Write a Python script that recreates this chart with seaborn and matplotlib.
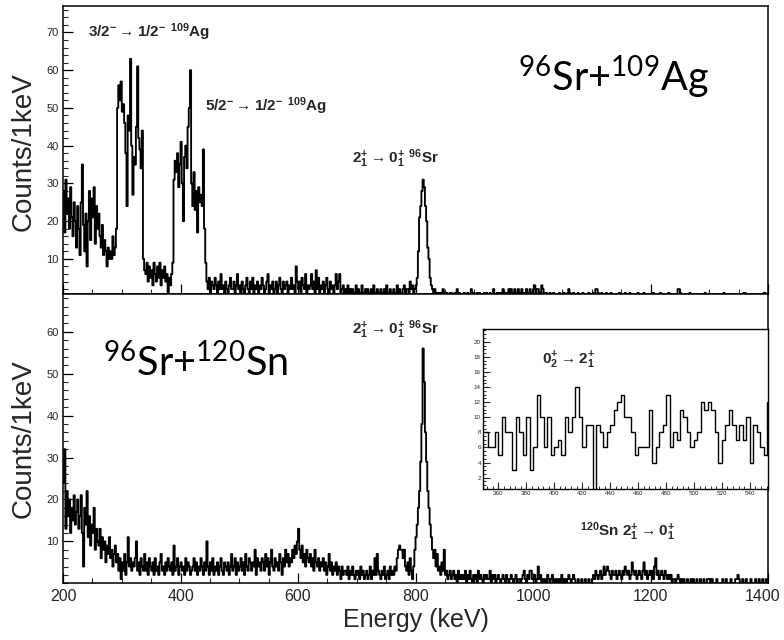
import numpy as np
import pandas as pd
import matplotlib
matplotlib.use("Agg")
import matplotlib.pyplot as plt
from matplotlib.ticker import MultipleLocator
from matplotlib.transforms import ScaledTranslation
import seaborn as sns

# ---- spectra: counts per 2 keV bin, starting at 200 keV ----
E_START = 200.0
E_BIN = 2.0

# 96Sr + 109Ag
ag_counts = [
    28, 17, 31, 22, 26, 18, 29, 21, 16, 25,
    20, 13, 24, 18, 11, 25, 35, 19, 12, 22,
    8, 20, 28, 15, 26, 21, 29, 14, 24, 18,
    22, 16, 13, 19, 11, 15, 12, 8, 13, 10,
    12, 10, 16, 11, 13, 18, 50, 56, 52, 57,
    49, 51, 46, 38, 24, 48, 44, 63, 40, 27,
    37, 35, 45, 61, 42, 39, 34, 44, 10, 7,
    6, 9, 4, 8, 5, 7, 3, 9, 6, 4,
    8, 5, 9, 3, 7, 5, 8, 4, 6, 0,
    5, 3, 6, 9, 31, 36, 33, 38, 29, 35,
    41, 30, 20, 37, 40, 34, 45, 50, 60, 30,
    24, 33, 23, 28, 17, 29, 25, 27, 24, 39,
    18, 9, 4, 2, 5, 1, 4, 3, 2, 5,
    3, 1, 4, 2, 6, 2, 3, 0, 4, 2,
    1, 3, 5, 2, 2, 4, 1, 3, 6, 2,
    3, 1, 4, 2, 0, 3, 5, 2, 1, 4,
    2, 5, 1, 3, 2, 4, 0, 3, 2, 5,
    3, 1, 2, 4, 6, 1, 3, 2, 4, 1,
    2, 4, 1, 3, 5, 2, 0, 4, 2, 3,
    4, 1, 3, 2, 5, 2, 3, 1, 8, 4,
    2, 4, 1, 5, 3, 2, 6, 1, 3, 2,
    3, 6, 2, 4, 1, 7, 2, 5, 1, 3,
    2, 4, 1, 3, 5, 2, 1, 4, 2, 3,
    1, 3, 6, 2, 4, 6, 1, 2, 3, 1,
    2, 1, 3, 0, 2, 1, 2, 0, 1, 3,
    1, 2, 0, 1, 3, 1, 0, 2, 1, 2,
    0, 1, 2, 1, 3, 0, 1, 2, 0, 1,
    2, 1, 0, 2, 1, 3, 1, 0, 2, 1,
    1, 2, 1, 0, 3, 1, 2, 1, 0, 2,
    3, 1, 2, 2, 1, 4, 2, 3, 1, 2,
    3, 5, 12, 21, 24, 28, 31, 29, 24, 20,
    13, 10, 5, 3, 2, 1, 2, 1, 0, 1,
    0, 1, 0, 2, 1, 0, 1, 0, 0, 1,
    1, 0, 0, 1, 0, 2, 0, 1, 0, 0,
    0, 1, 0, 0, 1, 0, 0, 2, 0, 1,
    0, 0, 1, 0, 1, 0, 0, 0, 1, 0,
    1, 0, 0, 1, 0, 0, 2, 0, 0, 1,
    0, 1, 1, 0, 2, 1, 0, 1, 1, 2,
    1, 2, 1, 1, 2, 1, 0, 2, 1, 1,
    2, 1, 1, 0, 2, 1, 1, 2, 0, 1,
    2, 3, 1, 2, 2, 0, 1, 3, 2, 1,
    0, 1, 0, 0, 1, 0, 0, 1, 0, 0,
    0, 0, 1, 0, 0, 0, 1, 0, 0, 1,
    2, 1, 0, 0, 1, 0, 0, 0, 1, 0,
    0, 0, 1, 0, 0, 0, 0, 1, 0, 0,
    0, 1, 0, 2, 2, 1, 0, 0, 1, 0,
    0, 0, 1, 0, 0, 0, 1, 0, 0, 0,
    0, 0, 0, 1, 0, 0, 0, 0, 1, 0,
    0, 0, 1, 0, 0, 0, 0, 0, 0, 1,
    0, 0, 0, 0, 1, 0, 0, 0, 0, 0,
    0, 0, 1, 0, 0, 0, 0, 0, 1, 0,
    0, 0, 0, 0, 0, 1, 0, 0, 0, 0,
    0, 0, 0, 2, 2, 1, 0, 0, 0, 0,
    0, 0, 0, 1, 0, 0, 0, 0, 0, 0,
    0, 0, 0, 0, 0, 0, 1, 0, 0, 0,
    0, 0, 0, 0, 0, 0, 0, 0, 0, 0,
    0, 0, 1, 0, 0, 0, 0, 0, 0, 0,
    0, 0, 0, 0, 0, 0, 0, 0, 0, 1,
    1, 0, 0, 0, 0, 0, 0, 0, 0, 0,
    0, 0, 0, 0, 0, 0, 1, 1, 0, 0,
]

# 96Sr + 120Sn
sn_counts = [
    24, 32, 13, 22, 16, 20, 12, 18, 15, 21,
    14, 17, 20, 13, 16, 21, 12, 4, 18, 14,
    22, 11, 16, 9, 14, 12, 18, 8, 13, 10,
    9, 13, 6, 11, 8, 10, 5, 9, 7, 11,
    6, 8, 4, 7, 9, 5, 7, 3, 6, 1,
    5, 3, 7, 2, 5, 11, 4, 6, 3, 5,
    4, 6, 10, 3, 5, 2, 6, 4, 3, 7,
    3, 5, 2, 6, 4, 3, 5, 2, 6, 3,
    4, 2, 5, 7, 3, 4, 2, 5, 3, 6,
    4, 3, 5, 2, 9, 3, 4, 6, 2, 4,
    5, 3, 4, 2, 6, 3, 5, 4, 2, 3,
    4, 6, 3, 5, 2, 4, 3, 6, 4, 2,
    5, 3, 10, 4, 2, 5, 3, 6, 2, 4,
    3, 5, 2, 4, 6, 3, 2, 5, 4, 3,
    5, 2, 4, 7, 3, 4, 6, 2, 5, 3,
    4, 6, 3, 5, 2, 7, 4, 3, 6, 5,
    3, 5, 4, 8, 2, 6, 4, 5, 3, 6,
    5, 3, 7, 4, 6, 2, 5, 8, 4, 3,
    6, 4, 5, 3, 7, 5, 2, 6, 4, 8,
    5, 7, 4, 6, 5, 8, 6, 9, 7, 10,
    13, 8, 6, 9, 5, 7, 4, 8, 6, 5,
    7, 4, 6, 3, 8, 5, 4, 6, 3, 5,
    4, 6, 3, 5, 2, 4, 7, 3, 5, 2,
    4, 3, 5, 2, 4, 3, 1, 4, 2, 3,
    3, 2, 4, 1, 3, 2, 4, 2, 1, 3,
    2, 3, 1, 4, 2, 3, 1, 2, 3, 1,
    2, 4, 1, 3, 2, 6, 2, 7, 3, 2,
    1, 3, 2, 4, 1, 2, 3, 1, 4, 2,
    3, 2, 4, 3, 6, 8, 9, 8, 8, 6,
    8, 4, 3, 5, 2, 6, 3, 1, 4, 8,
    11, 14, 18, 22, 29, 38, 56, 48, 36, 29,
    22, 18, 14, 11, 8, 6, 8, 4, 7, 3,
    4, 2, 5, 3, 8, 2, 3, 1, 2, 3,
    1, 2, 3, 1, 2, 0, 3, 1, 2, 1,
    2, 1, 3, 0, 2, 1, 3, 1, 0, 2,
    1, 2, 0, 3, 1, 2, 1, 0, 2, 1,
    2, 1, 1, 3, 0, 2, 1, 2, 0, 1,
    2, 1, 0, 1, 2, 1, 0, 2, 1, 0,
    1, 2, 1, 0, 1, 2, 0, 1, 1, 0,
    1, 2, 3, 1, 0, 2, 1, 3, 3, 1,
    1, 2, 0, 1, 4, 1, 2, 0, 1, 0,
    1, 0, 2, 1, 0, 1, 2, 0, 1, 0,
    1, 0, 1, 0, 2, 1, 0, 1, 0, 1,
    2, 1, 0, 1, 2, 1, 0, 0, 1, 0,
    0, 1, 0, 0, 1, 0, 0, 1, 0, 0,
    1, 2, 1, 3, 2, 1, 2, 3, 1, 2,
    4, 2, 3, 4, 3, 2, 1, 3, 2, 2,
    3, 1, 2, 3, 2, 1, 3, 2, 4, 3,
    2, 3, 1, 2, 5, 3, 2, 3, 1, 2,
    3, 2, 1, 3, 5, 2, 3, 1, 2, 3,
    2, 3, 1, 4, 6, 2, 3, 1, 2, 3,
    2, 1, 3, 2, 1, 2, 1, 2, 0, 1,
    1, 0, 1, 2, 1, 0, 1, 0, 1, 0,
    0, 1, 0, 0, 1, 0, 1, 0, 0, 1,
    0, 0, 1, 0, 0, 1, 0, 0, 1, 1,
    1, 0, 1, 0, 0, 0, 1, 0, 0, 0,
    0, 1, 0, 0, 1, 0, 0, 0, 1, 0,
    0, 0, 1, 1, 2, 1, 0, 0, 1, 0,
    0, 1, 0, 0, 0, 1, 0, 0, 0, 1,
    0, 0, 1, 0, 0, 1, 0, 0, 1, 0,
]

# zoomed 0+2 -> 2+1 region, 2.5 keV bins starting at 350 keV
INSET_START = 350.0
INSET_BIN = 2.5
inset_counts = [
    8, 6, 6, 8, 5, 10, 8, 8, 3, 10,
    8, 5, 10, 3, 6, 13, 10, 6, 10, 5,
    6, 7, 5, 10, 8, 10, 14, 10, 6, 9,
    9, 0, 9, 8, 6, 8, 9, 11, 12, 13,
    10, 10, 8, 5, 6, 6, 6, 11, 4, 6,
    8, 9, 13, 6, 8, 7, 11, 10, 8, 6,
    7, 8, 12, 11, 12, 11, 8, 4, 7, 9,
    11, 9, 7, 9, 7, 10, 4, 9, 8, 6,
    5, 12,
]

x_ticks = [200, 400, 600, 800, 1000, 1200, 1400]
top_yticks = [10, 20, 30, 40, 50, 60, 70]
bot_yticks = [10, 20, 30, 40, 50, 60]
inset_xticks = [360, 380, 400, 420, 440, 460, 480, 500, 520, 540]
inset_yticks = [2, 4, 6, 8, 10, 12, 14, 16, 18, 20]

sns.set_theme(style="ticks")
plt.rcParams["font.family"] = ["Liberation Sans", "DejaVu Sans"]
plt.rcParams["mathtext.default"] = "regular"

TXT = "#262626"
ANN_FONT = ["Liberation Sans Narrow", "Liberation Sans", "DejaVu Sans"]
BIG_FONT = ["Lato", "DejaVu Sans"]

fig = plt.figure(figsize=(7.84, 6.4), dpi=100)
ax_top = fig.add_axes([0.0804, 0.5406, 0.8992, 0.4500])
ax_bot = fig.add_axes([0.0804, 0.0886, 0.8992, 0.4520])
ax_in = fig.add_axes([0.6161, 0.2360, 0.3635, 0.2500])


def spectrum(ax, counts, start, width, lw):
    counts = [float(c) for c in counts]
    edges = [start + width * i for i in range(len(counts) + 1)]
    df = pd.DataFrame({"E": [e + width / 2 for e in edges[:-1]], "N": counts})
    sns.histplot(data=df, x="E", weights="N", bins=edges, element="step",
                 fill=False, color="black", linewidth=lw, ax=ax)
    ax.set_xlabel("")
    ax.set_ylabel("")


def frame(ax, lw=1.1):
    for s in ax.spines.values():
        s.set_visible(True)
        s.set_color("black")
        s.set_linewidth(lw)


spectrum(ax_top, ag_counts, E_START, E_BIN, 1.35)
spectrum(ax_bot, sn_counts, E_START, E_BIN, 1.35)
spectrum(ax_in, inset_counts, INSET_START, INSET_BIN, 1.0)

# main panels
for ax in (ax_top, ax_bot):
    frame(ax)
    ax.set_xlim(200, 1400)
    ax.set_xticks(x_ticks)
    ax.xaxis.set_minor_locator(MultipleLocator(50))
    ax.yaxis.set_minor_locator(MultipleLocator(2))
    ax.tick_params(axis="both", which="major", direction="in", length=7,
                   width=0.9, colors="black", labelcolor=TXT,
                   top=False, right=False)
    ax.tick_params(axis="both", which="minor", direction="in", length=3.5,
                   width=0.8, top=False, right=False)
    ax.tick_params(axis="y", labelsize=8, pad=3)

ax_top.set_ylim(0.7, 77)
ax_top.set_yticks(top_yticks)
ax_top.tick_params(axis="x", labelbottom=False)

ax_bot.set_ylim(0, 69)
ax_bot.set_yticks(bot_yticks)
ax_bot.tick_params(axis="x", labelsize=11.5, pad=4)
# keep the last energy label inside the canvas
last = ax_bot.get_xticklabels()[-1]
last.set_transform(last.get_transform()
                   + ScaledTranslation(-4 / 72, 0, fig.dpi_scale_trans))

# inset
frame(ax_in, 1.0)
ax_in.set_xlim(349, 553)
ax_in.set_ylim(0.5, 21.7)
ax_in.set_xticks(inset_xticks)
ax_in.set_yticks(inset_yticks)
ax_in.xaxis.set_minor_locator(MultipleLocator(4))
ax_in.yaxis.set_minor_locator(MultipleLocator(0.5))
ax_in.tick_params(axis="both", which="major", direction="in", length=5,
                  width=0.8, labelsize=4.5, labelcolor=TXT, pad=1.5,
                  top=False, right=False)
ax_in.tick_params(axis="both", which="minor", direction="in", length=2.5,
                  width=0.7, top=False, right=False)

# transition labels
ann = dict(family=ANN_FONT, fontweight="bold", color=TXT, va="center",
           ha="left", fontsize=11)
ax_top.text(242, 70, r"$3/2^{-}\rightarrow 1/2^{-}\ {}^{109}$Ag", **ann)
ax_top.text(442, 50.5, r"$5/2^{-}\rightarrow 1/2^{-}\ {}^{109}$Ag", **ann)
ax_top.text(692, 36.5, r"$2^{+}_{1}\rightarrow 0^{+}_{1}\ {}^{96}$Sr", **ann)
ax_bot.text(692, 60.5, r"$2^{+}_{1}\rightarrow 0^{+}_{1}\ {}^{96}$Sr", **ann)
ax_bot.text(1080, 12.3, r"${}^{120}$Sn $2^{+}_{1}\rightarrow 0^{+}_{1}$", **ann)
ax_in.text(391, 17.6, r"$0^{+}_{2}\rightarrow 2^{+}_{1}$", **ann)

# reaction labels
big = dict(family=BIG_FONT, color="black", va="center", ha="left",
           fontsize=28.5)
ax_top.text(974, 58, r"$^{96}$Sr+$^{109}$Ag", **big)
ax_bot.text(268, 52.5, r"$^{96}$Sr+$^{120}$Sn", **big)

# axis titles
fig.text(24 / 784, 1 - 152 / 640, "Counts/1keV", rotation=90, ha="center",
         va="center", fontsize=20, color=TXT)
fig.text(24 / 784, 1 - 439 / 640, "Counts/1keV", rotation=90, ha="center",
         va="center", fontsize=20, color=TXT)
fig.text(416 / 784, 1 - 620 / 640, "Energy (keV)", ha="center", va="center",
         fontsize=18, color=TXT)

fig.savefig("out.png", dpi=100, facecolor="white")
